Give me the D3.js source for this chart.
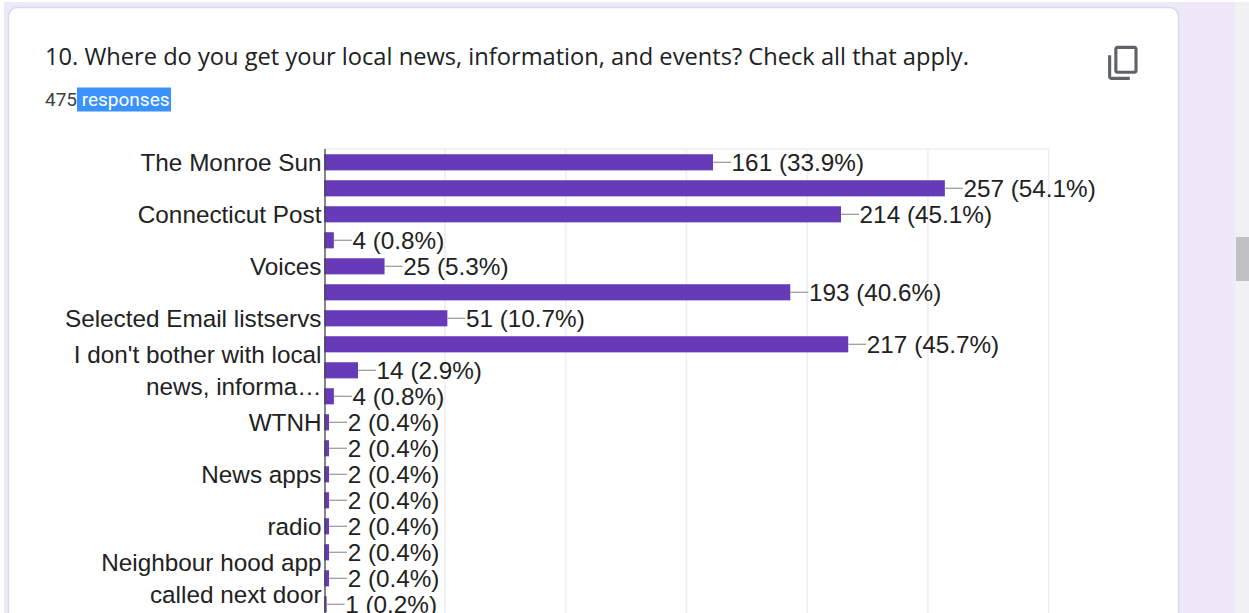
<!DOCTYPE html>
<html>
<head>
<meta charset="utf-8">
<script src="https://cdn.jsdelivr.net/npm/d3@7"></script>
<style>
    html, body { margin: 0; padding: 0; background: #fff; overflow: hidden; }
    svg { display: block; }
</style>
</head>
<body>
<div id="chart"></div>
<script>
const title = "10. Where do you get your local news, information, and events? Check all that apply.";
const responseCount = "475";
const responseWord = " responses";

// only every other category label is shown, the rest are hidden in the screenshot
const categories = [
    ["The Monroe Sun"], [""], ["Connecticut Post"], [""], ["Voices"], [""],
    ["Selected Email listservs"], [""], ["I don't bother with local", "news, informa…"], [""],
    ["WTNH"], [""], ["News apps"], [""], ["radio"], [""],
    ["Neighbour hood app", "called next door"], [""]
];
const counts = [161, 257, 214, 4, 25, 193, 51, 217, 14, 4, 2, 2, 2, 2, 2, 2, 2, 1];
const percents = ["33.9", "54.1", "45.1", "0.8", "5.3", "40.6", "10.7", "45.7", "2.9", "0.8", "0.4", "0.4", "0.4", "0.4", "0.4", "0.4", "0.4", "0.2"];
const xTicks = [0, 50, 100, 150, 200, 250, 300];

const width = 1249, height = 613;
const chartFont = "'Liberation Sans', Arial, sans-serif";
const chartFontSize = 24.3;

const svg = d3.select("#chart").append("svg")
    .attr("width", width)
    .attr("height", height);

// page background and card
svg.append("rect").attr("x", 4).attr("y", 2).attr("width", 1231).attr("height", 611).attr("fill", "#ede9f8");
svg.append("rect").attr("x", 1235).attr("y", 2).attr("width", 14).attr("height", 611).attr("fill", "#f1f1f1");
svg.append("rect").attr("x", 1236).attr("y", 237).attr("width", 13).attr("height", 44).attr("fill", "#c1c1c1");
svg.append("rect").attr("x", 8.5).attr("y", 7.5).attr("width", 1170).attr("height", 640).attr("rx", 9)
    .attr("fill", "#fff").attr("stroke", "#dcdae4").attr("stroke-width", 1.5);

// header
svg.append("text").attr("x", 45).attr("y", 65)
    .attr("font-family", "'Open Sans', sans-serif").attr("font-size", 23.67)
    .attr("fill", "#202124").text(title);

svg.append("rect").attr("x", 77).attr("y", 87.5).attr("width", 94).attr("height", 24).attr("fill", "#3b92fb");
svg.append("text").attr("x", 45).attr("y", 105.5)
    .attr("font-family", "Roboto, sans-serif").attr("font-size", 19)
    .attr("fill", "#3c4043").text(responseCount);
svg.append("text").attr("x", 77).attr("y", 105.5).attr("xml:space", "preserve")
    .attr("font-family", "Roboto, sans-serif").attr("font-size", 19)
    .attr("fill", "#fff").text(responseWord);

// copy icon, the small sheet sits lower left in the original
svg.append("path")
    .attr("transform", "translate(1105,81.5) scale(1.55,-1.55)")
    .attr("fill", "#5f6368")
    .attr("d", "M16 1H4c-1.1 0-2 .9-2 2v14h2V3h12V1zm3 4H8c-1.1 0-2 .9-2 2v14c0 1.1.9 2 2 2h11c1.1 0 2-.9 2-2V7c0-1.1-.9-2-2-2zm0 16H8V7h11v14z");

// scales
const x = d3.scaleLinear().domain([0, 300]).range([324.2, 1048.7]);
const y = d3.scaleBand().domain(d3.range(counts.length)).range([149.3, 617.3]).paddingInner(0.38).paddingOuter(0.19);
const rowCenter = i => y(i) + y.bandwidth() / 2;

// gridlines
const grid = svg.append("g");
grid.selectAll("line.grid").data(xTicks.slice(1)).join("line")
    .attr("class", "grid")
    .attr("x1", d => x(d)).attr("x2", d => x(d))
    .attr("y1", 149).attr("y2", height)
    .attr("stroke", "#eeeeee").attr("stroke-width", 1.5);
grid.append("line")
    .attr("x1", x(0)).attr("x2", x(300)).attr("y1", 149).attr("y2", 149)
    .attr("stroke", "#eeeeee").attr("stroke-width", 1.5);

// bars
svg.append("g").selectAll("rect").data(counts).join("rect")
    .attr("x", x(0))
    .attr("y", (d, i) => y(i))
    .attr("width", d => x(d) - x(0))
    .attr("height", y.bandwidth())
    .attr("fill", "#673ab7");

// leader lines from bar end to the value label
svg.append("g").selectAll("line").data(counts).join("line")
    .attr("x1", d => x(d))
    .attr("x2", d => x(d) + 18)
    .attr("y1", (d, i) => rowCenter(i))
    .attr("y2", (d, i) => rowCenter(i))
    .attr("stroke", "#9e9e9e").attr("stroke-width", 1.3);

// value labels
svg.append("g").selectAll("text").data(counts).join("text")
    .attr("x", d => x(d) + 18.6)
    .attr("y", (d, i) => rowCenter(i) + 8.5)
    .attr("font-family", chartFont).attr("font-size", chartFontSize)
    .attr("fill", "#222")
    .text((d, i) => `${d} (${percents[i]}%)`);

// category axis
const yAxis = d3.axisLeft(y).tickSize(0).tickPadding(4).tickFormat("");
const axisG = svg.append("g").attr("transform", "translate(325,0)").call(yAxis);
axisG.select(".domain").remove();
axisG.selectAll("text").remove();
axisG.selectAll(".tick").append("text")
    .attr("text-anchor", "end")
    .attr("font-family", chartFont).attr("font-size", chartFontSize)
    .attr("fill", "#222")
    .each(function (d) {
        const lines = categories[d];
        d3.select(this).selectAll("tspan").data(lines).join("tspan")
            .attr("x", -3.5)
            .attr("y", (l, i) => 8.5 + (i - (lines.length - 1) / 2) * 32)
            .text(l => l);
    });

svg.append("line")
    .attr("x1", 325).attr("x2", 325).attr("y1", 149).attr("y2", height)
    .attr("stroke", "#444").attr("stroke-width", 1.3);
</script>
</body>
</html>
